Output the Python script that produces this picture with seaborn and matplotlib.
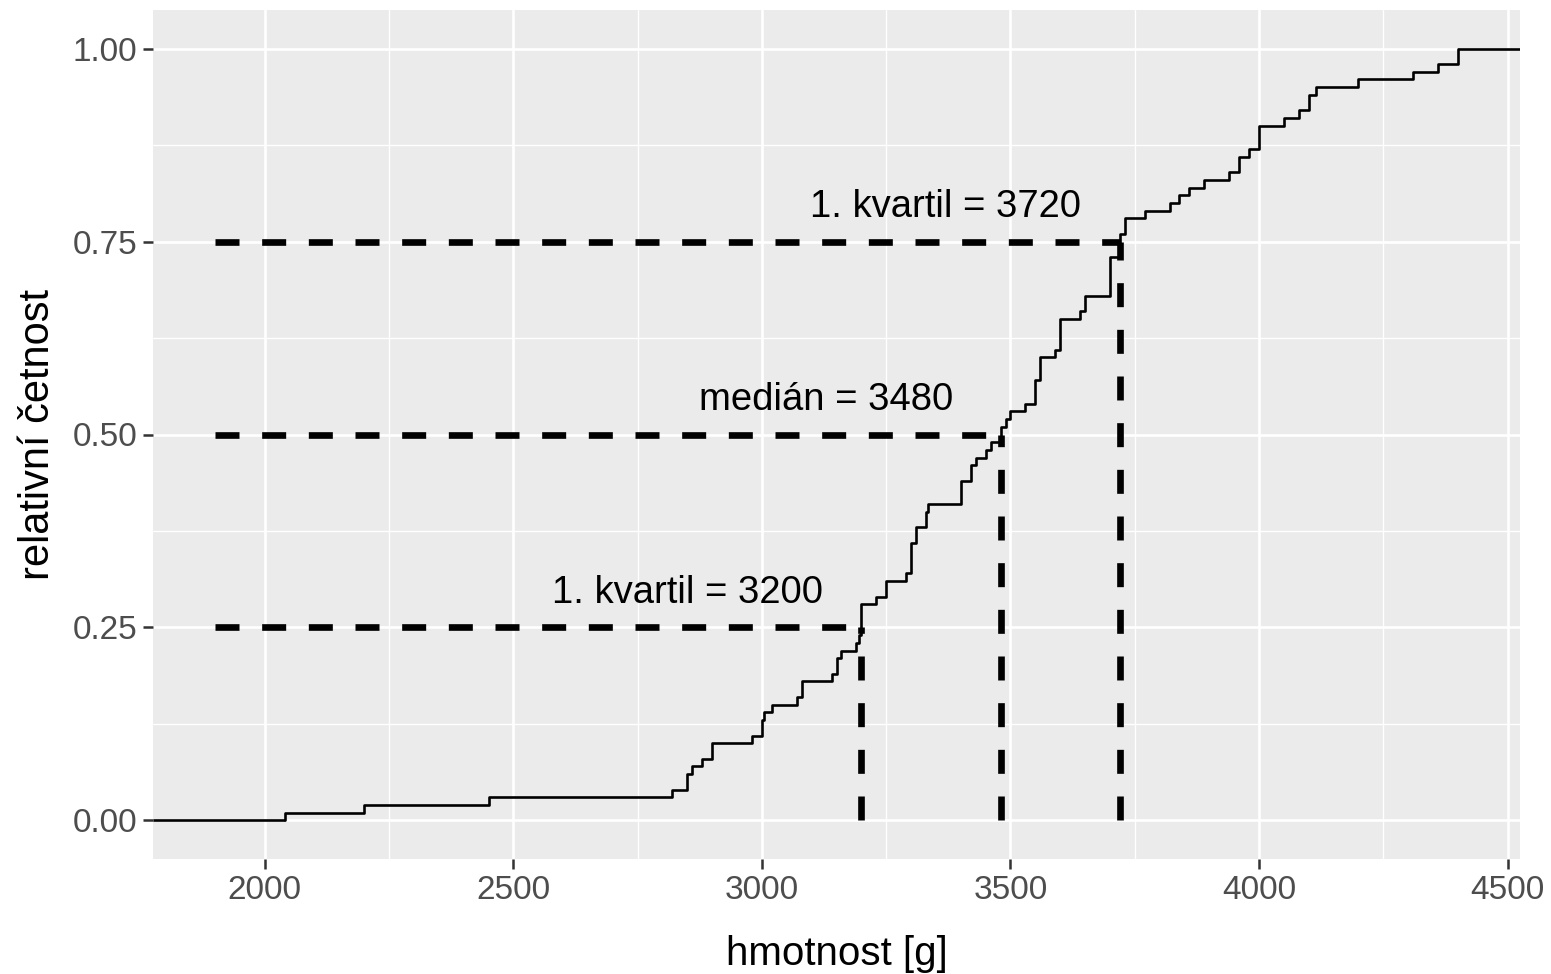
import numpy as np
import pandas as pd
import matplotlib
matplotlib.use("Agg")
import matplotlib.pyplot as plt
import seaborn as sns
from matplotlib.ticker import FixedLocator, FuncFormatter

# Porodní hmotnosti (g) a počty novorozenců s danou hmotností
hmotnost = [2040, 2200, 2450, 2820, 2850, 2860, 2880, 2900, 2980, 3000,
            3005, 3020, 3070, 3080, 3140, 3150, 3160, 3190, 3195, 3200,
            3230, 3250, 3290, 3300, 3310, 3330, 3335, 3400, 3420, 3430,
            3450, 3460, 3480, 3490, 3500, 3530, 3550, 3560, 3590, 3600,
            3640, 3650, 3700, 3720, 3730, 3770, 3820, 3840, 3860, 3890,
            3940, 3960, 3980, 4000, 4050, 4080, 4100, 4115, 4200, 4310,
            4360, 4400]
pocet = [1, 1, 1, 1, 2, 1, 1, 2, 1, 2,
         1, 1, 1, 2, 1, 2, 1, 1, 1, 4,
         1, 2, 1, 4, 2, 2, 1, 3, 2, 1,
         1, 1, 2, 1, 1, 1, 3, 3, 1, 4,
         1, 2, 5, 3, 2, 1, 1, 1, 1, 1,
         1, 2, 1, 3, 1, 1, 2, 1, 1, 1,
         1, 2]

# Kvantily: pravděpodobnost, hodnota, popisek
kvantil_p = [0.25, 0.50, 0.75]
kvantil_x = [3200, 3480, 3720]
kvantil_nazev = ["1. kvartil", "medián", "1. kvartil"]
usecka_start = 1900

x_ticks = [2000, 2500, 3000, 3500, 4000, 4500]
x_minor = [2250, 2750, 3250, 3750, 4250]
y_ticks = [0.00, 0.25, 0.50, 0.75, 1.00]
y_minor = [0.125, 0.375, 0.625, 0.875]

df = pd.DataFrame({"hmotnost": np.repeat(hmotnost, pocet)})

sns.set_theme(style="darkgrid")
plt.rcParams["font.family"] = ["Liberation Sans", "DejaVu Sans"]

fig, ax = plt.subplots(figsize=(15.51, 9.74), dpi=100)
fig.subplots_adjust(left=153 / 1551, right=1520 / 1551,
                    top=1 - 10 / 974, bottom=1 - 859 / 974)
ax.set_facecolor("#EBEBEB")

# rozsah os jako v ggplot (5 % okraj)
x_min = df["hmotnost"].min()
x_max = df["hmotnost"].max()
x_lo = min(usecka_start, x_min)
x_pad = 0.05 * (x_max - x_lo)
xlim = (x_lo - x_pad, x_max + x_pad)

sns.ecdfplot(data=df, x="hmotnost", color="black", linewidth=1.9, ax=ax)
# prodloužení distribuční funkce k okrajům panelu
ax.plot([xlim[0], x_min], [0, 0], color="black", linewidth=1.9,
        solid_capstyle="butt")
ax.plot([x_max, xlim[1]], [1, 1], color="black", linewidth=1.9,
        solid_capstyle="butt")

for p, q, nazev in zip(kvantil_p, kvantil_x, kvantil_nazev):
    ax.plot([usecka_start, q], [p, p], color="black", linewidth=4.8,
            dashes=(3.6, 3.4), dash_capstyle="butt")
    ax.plot([q, q], [0, p], color="black", linewidth=4.8,
            dashes=(3.6, 3.4), dash_capstyle="butt")
    ax.text(q - 350, p + 0.045, f"{nazev} = {q}", ha="center", va="center",
            fontsize=27.5, color="black")

ax.set_xlim(*xlim)
ax.set_ylim(-0.05, 1.05)
ax.set_xticks(x_ticks)
ax.set_yticks(y_ticks)
ax.xaxis.set_minor_locator(FixedLocator(x_minor))
ax.yaxis.set_minor_locator(FixedLocator(y_minor))
ax.yaxis.set_major_formatter(FuncFormatter(lambda v, _: f"{v:.2f}"))

ax.grid(which="major", color="white", linewidth=1.9)
ax.grid(which="minor", color="white", linewidth=0.95)
ax.set_axisbelow(True)
for s in ax.spines.values():
    s.set_visible(False)

ax.tick_params(which="major", bottom=True, left=True, length=7, width=1.8,
               color="#333333", labelcolor="#4D4D4D", labelsize=24, pad=4.5)
ax.tick_params(which="minor", length=0)

ax.set_xlabel("hmotnost [g]", fontsize=29, color="black")
ax.set_ylabel("relativní četnost", fontsize=30, color="black")
ax.xaxis.set_label_coords(0.5, -0.0895)
ax.yaxis.set_label_coords(-0.0695, 0.5)

fig.savefig("out.png", dpi=100, facecolor="white")
